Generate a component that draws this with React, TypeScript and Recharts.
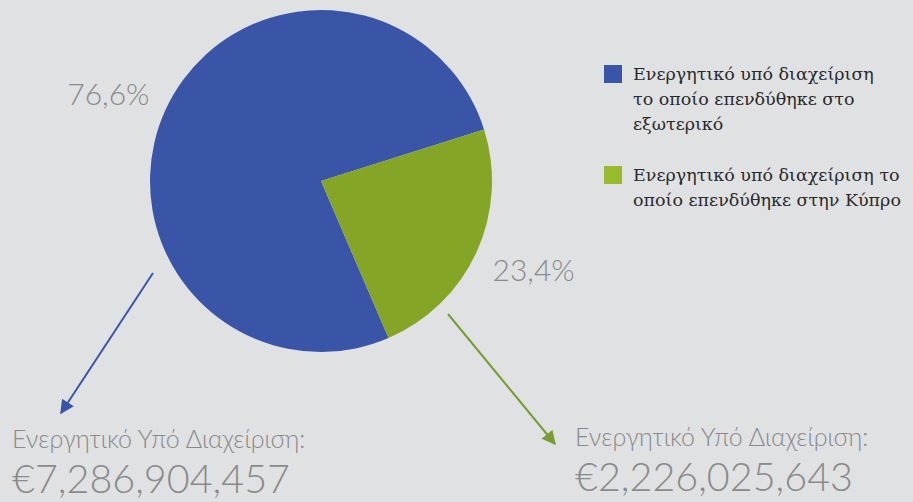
import { PieChart, Pie, Cell } from "recharts";

const categories = [
  "Ενεργητικό υπό διαχείριση το οποίο επενδύθηκε στο εξωτερικό",
  "Ενεργητικό υπό διαχείριση το οποίο επενδύθηκε στην Κύπρο",
];
const shares = [76.6, 23.4];
const percentLabels = ["76,6%", "23,4%"];
const legendLines = [
  ["Ενεργητικό υπό διαχείριση", "το οποίο επενδύθηκε στο", "εξωτερικό"],
  ["Ενεργητικό υπό διαχείριση το", "οποίο επενδύθηκε στην Κύπρο"],
];
const amountTitle = "Ενεργητικό Υπό Διαχείριση:";
const amounts = ["€7,286,904,457", "€2,226,025,643"];

const colors = ["#3a55a7", "#84a526"];
const legendColors = ["#3a55a7", "#9aba2e"];
const arrowColors = ["#3a55a7", "#7a9a36"];

const data = categories.map((name, i) => ({ name, value: shares[i] }));

const W = 913;
const H = 502;
const CX = 321;
const CY = 181;
const R = 171;
const RAD = Math.PI / 180;

const renderPercent = (props: any) => {
  const { midAngle, index } = props;
  const r = 230;
  const a = (midAngle + 2.2) * RAD;
  const x = CX + r * Math.cos(-a);
  const y = CY + r * Math.sin(-a);
  return (
    <text
      x={x}
      y={y}
      textAnchor="middle"
      dominantBaseline="central"
      fill="#8a8a8a"
      fontSize={30}
      fontFamily="Lato, sans-serif"
      fontWeight={300}
    >
      {percentLabels[index]}
    </text>
  );
};

const arrows = [
  { x1: 153, y1: 273, x2: 61, y2: 413 },
  { x1: 448, y1: 314, x2: 555, y2: 444 },
];

const amountBlocks = [
  { left: 12, top: 423 },
  { left: 575, top: 421 },
];

function LegendBox() {
  return (
    <div style={{ position: "absolute", left: 604, top: 62 }}>
      {legendLines.map((lines, i) => (
        <div key={i} style={{ display: "flex", marginBottom: i === 0 ? 26 : 0 }}>
          <div
            style={{
              width: 18,
              height: 18,
              background: legendColors[i],
              marginTop: 3,
              marginRight: 11,
              flexShrink: 0,
            }}
          />
          <div
            style={{
              fontFamily: "'DejaVu Serif', serif",
              fontSize: 17.5,
              lineHeight: "25px",
              color: "#2a2a2a",
              whiteSpace: "nowrap",
            }}
          >
            {lines.map((l, j) => (
              <div key={j}>{l}</div>
            ))}
          </div>
        </div>
      ))}
    </div>
  );
}

export default function App() {
  return (
    <div
      style={{
        position: "fixed",
        left: 0,
        top: 0,
        width: W,
        height: H,
        background: "#e0e1e3",
        overflow: "hidden",
      }}
    >
      <PieChart
        width={W}
        height={H}
        margin={{ top: 0, right: 0, bottom: 0, left: 0 }}
        style={{ position: "absolute", left: 0, top: 0 }}
      >
        <Pie
          data={data}
          dataKey="value"
          nameKey="name"
          cx={CX}
          cy={CY}
          outerRadius={R}
          startAngle={17.5}
          endAngle={377.5}
          stroke="none"
          label={renderPercent}
          labelLine={false}
          isAnimationActive={false}
        >
          {data.map((d, i) => (
            <Cell key={d.name} fill={colors[i]} />
          ))}
        </Pie>
      </PieChart>
      <svg width={W} height={H} style={{ position: "absolute", left: 0, top: 0 }}>
        <defs>
          {arrowColors.map((c, i) => (
            <marker
              key={i}
              id={`arr${i}`}
              viewBox="0 0 10 10"
              refX="9"
              refY="5"
              markerWidth="15"
              markerHeight="14"
              orient="auto"
              markerUnits="userSpaceOnUse"
            >
              <path d="M0,0 L10,5 L0,10 z" fill={c} />
            </marker>
          ))}
        </defs>
        {arrows.map((a, i) => (
          <line
            key={i}
            x1={a.x1}
            y1={a.y1}
            x2={a.x2}
            y2={a.y2}
            stroke={arrowColors[i]}
            strokeWidth={2}
            markerEnd={`url(#arr${i})`}
          />
        ))}
      </svg>
      <LegendBox />
      {amountBlocks.map((b, i) => (
        <div
          key={i}
          style={{
            position: "absolute",
            left: b.left,
            top: b.top,
            fontFamily: "Lato, sans-serif",
            fontWeight: 300,
            color: "#8a8a8a",
            whiteSpace: "nowrap",
          }}
        >
          <div style={{ fontSize: 25, lineHeight: "30px" }}>{amountTitle}</div>
          <div style={{ fontSize: 39.5, lineHeight: "40px", marginTop: 5 }}>{amounts[i]}</div>
        </div>
      ))}
    </div>
  );
}
